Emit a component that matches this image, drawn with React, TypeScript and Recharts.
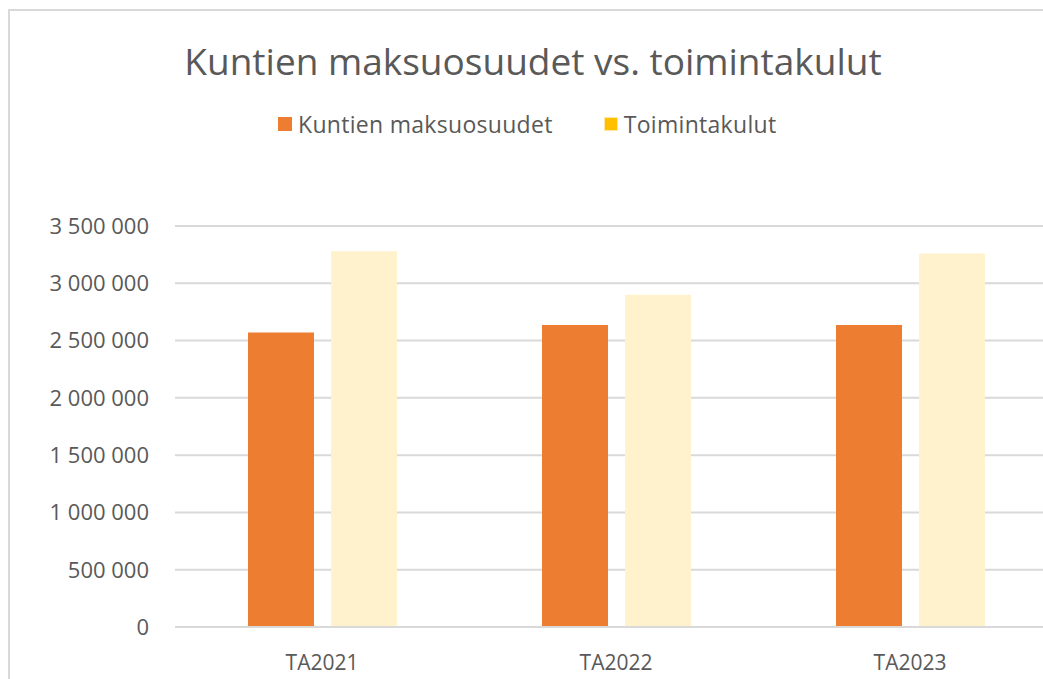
import React from 'react';
import { BarChart, Bar, XAxis, YAxis, CartesianGrid } from 'recharts';

const years = ['TA2021', 'TA2022', 'TA2023'];
const maksuosuudet = [2570000, 2635000, 2635000];
const toimintakulut = [3280000, 2900000, 3260000];
const yTicks = [0, 500000, 1000000, 1500000, 2000000, 2500000, 3000000, 3500000];

const TEXT = '#595959';
const GRID = '#d9d9d9';
const ORANGE = '#ED7D31';
const CREAM = '#FFF2CC';
const GOLD = '#FFC000';
const FONT = '"Open Sans", sans-serif';

const data = years.map((y, i) => ({
  year: y,
  maksu: maksuosuudet[i],
  toiminta: toimintakulut[i],
}));

const fmt = (v: number) => v.toLocaleString('fi-FI').replace(/\s/g, ' ');

function LegendBox() {
  const items = [
    { label: 'Kuntien maksuosuudet', color: ORANGE, border: ORANGE },
    { label: 'Toimintakulut', color: GOLD, border: '#FFE8A6' },
  ];
  return (
    <div style={{ position: 'absolute', left: 278, top: 109, display: 'flex', gap: 51, fontFamily: FONT, fontSize: 23, color: TEXT, lineHeight: '30px', letterSpacing: 0.3 }}>
      {items.map(it => (
        <div key={it.label} style={{ display: 'flex', alignItems: 'center', gap: 6 }}>
          <span style={{ width: 12, height: 12, background: it.color, border: `1px solid ${it.border}`, display: 'inline-block' }} />
          <span>{it.label}</span>
        </div>
      ))}
    </div>
  );
}

export default function App() {
  return (
    <div style={{ position: 'absolute', left: 0, top: 0, width: 1043, height: 679, overflow: 'hidden', background: '#fff' }}>
      <div style={{ position: 'absolute', left: 8, top: 9, width: 1100, height: 700, borderLeft: `2px solid ${GRID}`, borderTop: `2px solid ${GRID}` }} />
      <div style={{ position: 'absolute', left: 0, top: 35, width: 1066, textAlign: 'center', fontFamily: FONT, fontSize: 37, color: TEXT }}>
        Kuntien maksuosuudet vs. toimintakulut
      </div>
      <LegendBox />
      <div style={{ position: 'absolute', left: 0, top: 0 }}>
        <BarChart width={1070} height={679} data={data} barSize={66} barGap={17}
          margin={{ top: 226, right: 13, bottom: 12, left: 10 }}>
          <CartesianGrid stroke={GRID} strokeWidth={2} vertical={false} />
          <XAxis dataKey="year" height={40} tickLine={false} axisLine={{ stroke: GRID, strokeWidth: 2 }}
            tick={{ fontSize: 21, fill: TEXT, fontFamily: FONT }} tickMargin={22} />
          <YAxis width={165} domain={[0, 3500000]} ticks={yTicks} tickFormatter={fmt} tickLine={false} axisLine={false}
            tickSize={0} tickMargin={26} tick={{ fontSize: 22, fill: TEXT, fontFamily: FONT }} />
          <Bar dataKey="maksu" name="Kuntien maksuosuudet" fill={ORANGE} isAnimationActive={false} />
          <Bar dataKey="toiminta" name="Toimintakulut" fill={CREAM} isAnimationActive={false} />
        </BarChart>
      </div>
    </div>
  );
}
